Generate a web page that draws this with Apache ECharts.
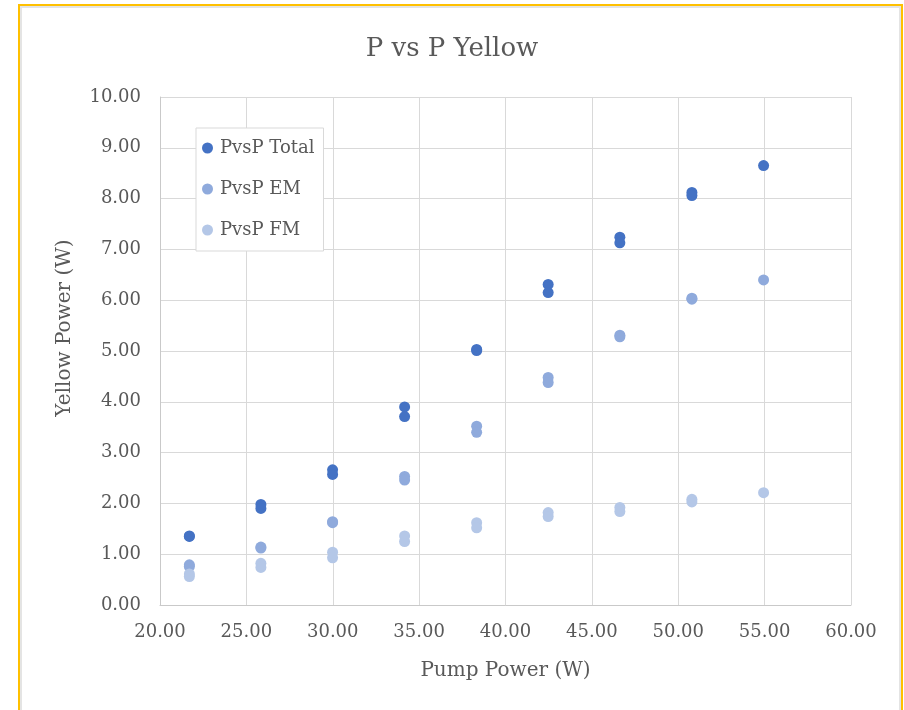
<!DOCTYPE html>
<html>
<head>
<meta charset="utf-8">
<script src="https://cdn.jsdelivr.net/npm/echarts@6/dist/echarts.min.js"></script>
<style>
  html, body { margin: 0; padding: 0; background: #ffffff; }
  #chart { width: 904px; height: 710px; }
</style>
</head>
<body>
<div id="chart"></div>
<script>
// ---- data ----
const chartTitle = 'P vs P Yellow';
const xTitle = 'Pump Power (W)';
const yTitle = 'Yellow Power (W)';
const seriesNames = ['PvsP Total', 'PvsP EM', 'PvsP FM'];
const pumpPower = [21.70, 25.84, 29.99, 34.16, 38.33, 42.47, 46.62, 50.79, 54.94];
const totalRun1 = [1.36, 1.98, 2.66, 3.90, 5.03, 6.31, 7.24, 8.12, 8.65];
const totalRun2 = [1.35, 1.90, 2.57, 3.71, 5.01, 6.15, 7.13, 8.06, null];
const emRun1    = [0.79, 1.14, 1.64, 2.53, 3.52, 4.48, 5.31, 6.04, 6.40];
const emRun2    = [0.76, 1.12, 1.62, 2.46, 3.40, 4.38, 5.28, 6.02, null];
const fmRun1    = [0.61, 0.82, 1.04, 1.36, 1.62, 1.82, 1.92, 2.08, 2.21];
const fmRun2    = [0.56, 0.74, 0.93, 1.25, 1.52, 1.74, 1.84, 2.03, null];
const xTicks = [20, 25, 30, 35, 40, 45, 50, 55, 60];
const yTicks = [0, 1, 2, 3, 4, 5, 6, 7, 8, 9, 10];

function pairs(a, b) {
  const out = [];
  pumpPower.forEach((x, i) => {
    if (a[i] != null) out.push([x, a[i]]);
    if (b[i] != null) out.push([x, b[i]]);
  });
  return out;
}

const colors = ['#4472C4', '#8FAADC', '#B4C7E7'];
const font = 'DejaVu Serif';
const textColor = '#595959';

const chart = echarts.init(document.getElementById('chart'), null, { renderer: 'canvas' });
chart.setOption({
  animation: false,
  backgroundColor: '#ffffff',
  color: colors,
  title: {
    text: chartTitle,
    left: 'center',
    top: 31,
    textStyle: { fontFamily: font, fontSize: 26, fontWeight: 'normal', color: textColor }
  },
  graphic: [
    { type: 'rect', shape: { x: 21, y: 7, width: 879, height: 760 }, style: { fill: 'none', stroke: '#e4e4e4', lineWidth: 2 }, silent: true },
    { type: 'rect', shape: { x: 19, y: 5, width: 883, height: 760 }, style: { fill: 'none', stroke: '#FFC000', lineWidth: 2 }, silent: true },
    { type: 'text', x: 65, y: 328, rotation: Math.PI / 2, silent: true,
      style: { text: yTitle, fontFamily: font, fontSize: 20, fill: textColor, align: 'center', verticalAlign: 'middle' } }
  ],
  legend: {
    orient: 'vertical',
    left: 196,
    top: 128,
    padding: [11, 9, 12, 6],
    itemGap: 23,
    itemWidth: 11,
    itemHeight: 11,
    icon: 'circle',
    backgroundColor: '#ffffff',
    borderColor: '#d9d9d9',
    borderWidth: 1,
    textStyle: { fontFamily: font, fontSize: 18, color: textColor, padding: [0, 0, 0, 2] },
    data: seriesNames
  },
  grid: { left: 160, right: 53, top: 97, bottom: 105, containLabel: false },
  xAxis: {
    type: 'value',
    min: xTicks[0],
    max: xTicks[xTicks.length - 1],
    interval: 5,
    name: xTitle,
    nameLocation: 'middle',
    nameGap: 56,
    nameTextStyle: { fontFamily: font, fontSize: 20, color: textColor },
    axisLine: { show: true, onZero: false, lineStyle: { color: '#c9c9c9', width: 1 } },
    axisTick: { show: false },
    axisLabel: { fontFamily: font, fontSize: 18, color: textColor, margin: 18, formatter: v => v.toFixed(2) },
    splitLine: { show: true, lineStyle: { color: '#d9d9d9', width: 1 } }
  },
  yAxis: {
    type: 'value',
    min: yTicks[0],
    max: yTicks[yTicks.length - 1],
    interval: 1,
    axisLine: { show: true, lineStyle: { color: '#c9c9c9', width: 1 } },
    axisTick: { show: false },
    axisLabel: { fontFamily: font, fontSize: 18, color: textColor, margin: 19, formatter: v => v.toFixed(2) },
    splitLine: { show: true, lineStyle: { color: '#d9d9d9', width: 1 } }
  },
  series: [
    { name: seriesNames[0], type: 'scatter', symbol: 'circle', symbolSize: 11, data: pairs(totalRun1, totalRun2), itemStyle: { color: colors[0], opacity: 1 } },
    { name: seriesNames[1], type: 'scatter', symbol: 'circle', symbolSize: 11, data: pairs(emRun1, emRun2), itemStyle: { color: colors[1], opacity: 1 } },
    { name: seriesNames[2], type: 'scatter', symbol: 'circle', symbolSize: 11, data: pairs(fmRun1, fmRun2), itemStyle: { color: colors[2], opacity: 1 } }
  ]
});
</script>
</body>
</html>
